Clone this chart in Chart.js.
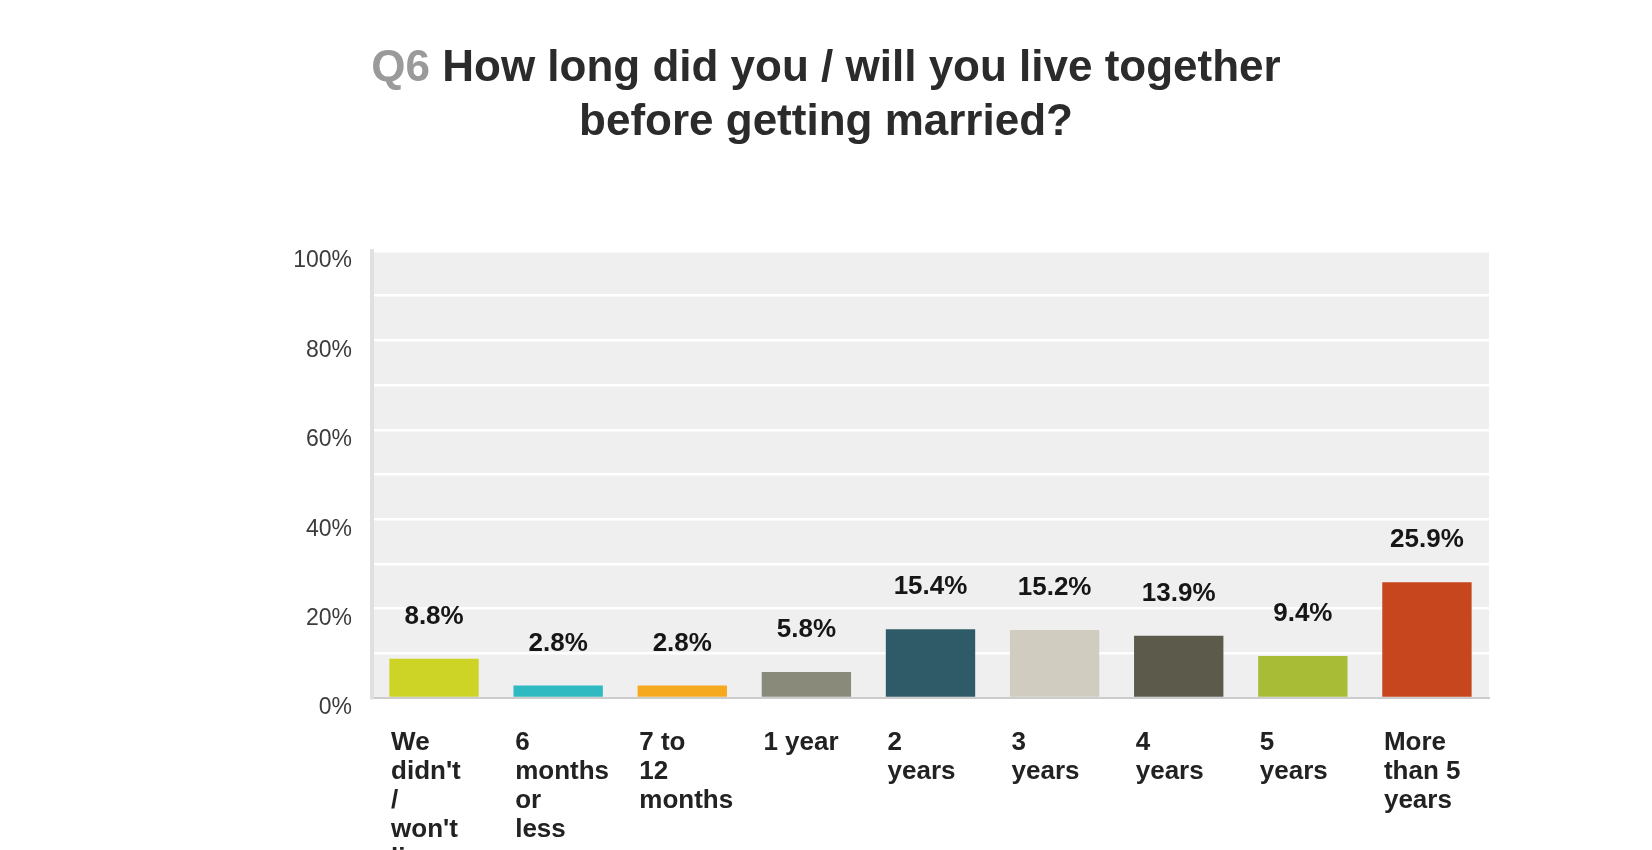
<!DOCTYPE html>
<html lang="en">
<head>
  <meta charset="UTF-8">
  <title>Q6 – living together before marriage</title>
  <script src="https://cdn.jsdelivr.net/npm/chart.js"></script>
  <style>
    * { margin:0; padding:0; box-sizing:border-box; }
    html,body { width:100%; height:100%; overflow:hidden; background:#fff; font-family:'Liberation Sans',Arial,sans-serif; }
    #wrap { position:relative; width:1652px; height:850px; }
    #title {
      position:absolute; top:39px; left:0; width:1652px;
      text-align:center; font-weight:bold; font-size:44px; line-height:54px;
      color:#2b2b2b;
    }
    #title .q { color:#9a9a9a; }
    #chart-box { position:absolute; top:0; left:0; width:1652px; height:850px; }
  </style>
</head>
<body>
  <div id="wrap">
    <div id="chart-box"><canvas id="chart"></canvas></div>
    <div id="title"><span class="q">Q6</span> How long did you / will you live together<br>before getting married?</div>
  </div>

  <script>
    // data
    const categories = [
      ["We", "didn't", "/", "won't", "live", "together"],
      ["6", "months", "or", "less"],
      ["7 to", "12", "months"],
      ["1 year"],
      ["2", "years"],
      ["3", "years"],
      ["4", "years"],
      ["5", "years"],
      ["More", "than 5", "years"]
    ];
    const shares = [8.8, 2.8, 2.8, 5.8, 15.4, 15.2, 13.9, 9.4, 25.9];
    const barColors = ["#cdd426", "#2fb9c1", "#f6a91f", "#8a8a7a", "#2e5b67", "#d0cdc0", "#5c5b4b", "#a9bc36", "#c7461d"];
    const yTicks = [0, 20, 40, 60, 80, 100];

    const FONT = "'Liberation Sans', Arial, sans-serif";

    // grey plot background
    const plotBg = {
      id: 'plotBg',
      beforeDraw(chart) {
        const { ctx, chartArea: a } = chart;
        ctx.save();
        ctx.fillStyle = '#efefef';
        ctx.fillRect(a.left, a.top, a.right - a.left, a.bottom - a.top);
        ctx.restore();
      }
    };

    // value labels above the bars
    const valueLabels = {
      id: 'valueLabels',
      afterDatasetsDraw(chart) {
        const { ctx } = chart;
        const meta = chart.getDatasetMeta(0);
        ctx.save();
        ctx.font = "bold 26px " + FONT;
        ctx.fillStyle = '#161616';
        ctx.textAlign = 'center';
        ctx.textBaseline = 'middle';
        meta.data.forEach((bar, i) => {
          ctx.fillText(shares[i].toFixed(1) + '%', bar.x, bar.y - 42);
        });
        ctx.restore();
      }
    };

    new Chart(document.getElementById('chart'), {
      type: 'bar',
      data: {
        labels: categories,
        datasets: [{ data: shares, backgroundColor: barColors, borderWidth: 0 }]
      },
      options: {
        responsive: true,
        maintainAspectRatio: false,
        animation: false,
        layout: { padding: { left: 0, right: 163, top: 251, bottom: 0 } },
        plugins: { legend: { display: false }, tooltip: { enabled: false }, title: { display: false } },
        datasets: { bar: { categoryPercentage: 1, barPercentage: 0.72 } },
        scales: {
          x: {
            grid: { display: false, drawTicks: false },
            border: { display: true, color: '#cccccc', width: 2 },
            ticks: {
              autoSkip: false, maxRotation: 0, minRotation: 0,
              align: 'start', labelOffset: -43, padding: 30,
              color: '#222',
              font: { family: FONT, size: 26, weight: 'bold', lineHeight: 1.12 }
            },
            afterFit(s) { s.height = 152; }
          },
          y: {
            min: 0, max: 100,
            grid: { color: '#ffffff', lineWidth: 2.5, drawTicks: false },
            border: { display: true, color: '#e0e0e0', width: 4 },
            ticks: {
              stepSize: 10, padding: 20, labelOffset: 10,
              color: '#3c3c3c',
              font: { family: FONT, size: 23 },
              callback: v => yTicks.includes(v) ? v + '%' : ''
            },
            afterFit(s) { s.width = 372; }
          }
        }
      },
      plugins: [plotBg, valueLabels]
    });
  </script>
</body>
</html>
